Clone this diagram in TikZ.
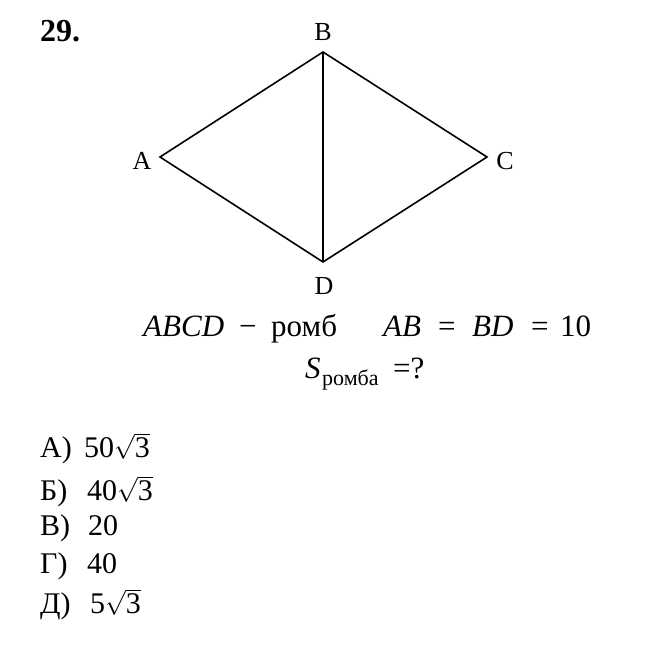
\documentclass[tikz,border=0pt]{standalone}
\usepackage{fontspec}
\setmainfont{Liberation Serif}
\newcommand{\at}[2]{\makebox[0pt][l]{#2}\hspace{#1}}
\begin{document}
\begin{tikzpicture}[x=1pt,y=-1pt,
  edge/.style={line width=1.6pt, line join=miter},
  vlabel/.style={font=\fontsize{26}{30}\selectfont, inner sep=0pt},
  eqtext/.style={font=\fontsize{31}{36}\selectfont, inner sep=0pt, anchor=base west},
  anstext/.style={font=\fontsize{30}{34}\selectfont, inner sep=0pt, anchor=base west}]
\useasboundingbox (0,0) rectangle (657,650);
\node[font=\bfseries\fontsize{32}{36}\selectfont, inner sep=0pt, anchor=base west] (num) at (40,42) {29.};
\coordinate (A) at (160,157);
\coordinate (B) at (323,52);
\coordinate (C) at (487,157);
\coordinate (D) at (323,262);
\draw[edge] (A) -- (B) -- (C) -- (D) -- cycle;
\draw[edge] (B) -- (D);
\node[vlabel] (lB) at (323,32) {B};
\node[vlabel] (lA) at (142,161) {A};
\node[vlabel] (lC) at (505,161) {C};
\node[vlabel] (lD) at (324,286) {D};
\node[eqtext] (eq1) at (143,337) {\at{96pt}{\textit{ABCD}}\at{32pt}{−}\at{112pt}{ромб}\at{55pt}{\textit{AB}}\at{34pt}{=}\at{59pt}{\textit{BD}}\at{29pt}{=}10};
\node[eqtext] (eq2) at (305,378) {\at{17pt}{\textit{S}}\at{71pt}{\raisebox{-7pt}{\fontsize{22}{26}\selectfont ромба}}=?};
\node[anstext] (a1) at (40,457) {\makebox[44pt][l]{А)}50$\sqrt{\mbox{3}}$};
\node[anstext] (a2) at (40,500) {\makebox[47pt][l]{Б)}40$\sqrt{\mbox{3}}$};
\node[anstext] (a3) at (40,535) {\makebox[48pt][l]{В)}20};
\node[anstext] (a4) at (40,573) {\makebox[47pt][l]{Г)}40};
\node[anstext] (a5) at (40,613) {\makebox[50pt][l]{Д)}5$\sqrt{\mbox{3}}$};
\end{tikzpicture}
\end{document}
